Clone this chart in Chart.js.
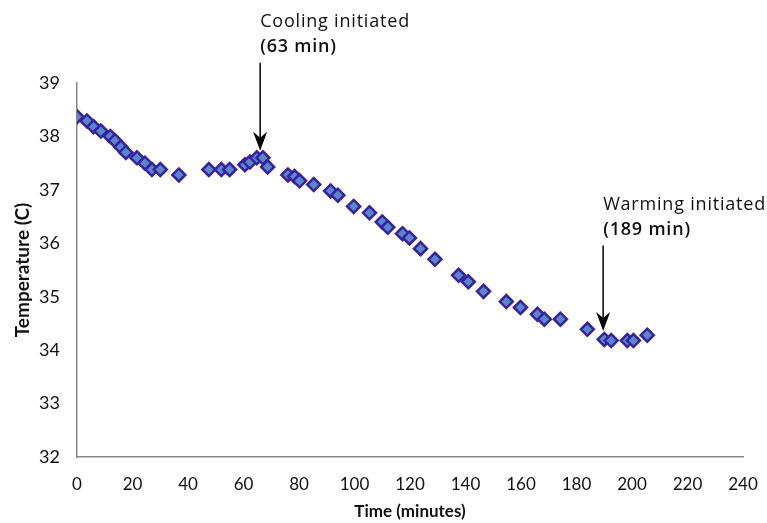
<!DOCTYPE html>
<html>
<head>
<meta charset="utf-8">
<script src="https://cdn.jsdelivr.net/npm/chart.js@4"></script>
<style>
  html, body { margin: 0; padding: 0; background: #fff; }
  #wrap { width: 767px; height: 523px; }
</style>
</head>
<body>
<div id="wrap"><canvas id="c" width="767" height="523"></canvas></div>
<script>
// Time (minutes)
const timeMin = [0, 3.6, 6, 8.6, 12, 13.7, 15.8, 17.6, 21.6, 24.5, 27, 30, 36.7,
  47.5, 52, 55, 60.5, 62.3, 64.8, 67, 68.7, 76, 78.4, 80.2, 85.3, 91.4, 94,
  99.7, 105.4, 110, 112, 117.3, 119.8, 123.8, 129, 137.5, 141, 146.5, 154.7,
  159.8, 165.9, 168.4, 174.2, 183.9, 190, 192.5, 198.3, 200.5, 205.5];
// Temperature (C)
const tempC = [38.37, 38.29, 38.18, 38.1, 38.0, 37.92, 37.8, 37.7, 37.6, 37.5, 37.38, 37.38, 37.28,
  37.38, 37.38, 37.38, 37.47, 37.52, 37.6, 37.6, 37.43, 37.28, 37.25, 37.17, 37.1, 36.98, 36.9,
  36.69, 36.57, 36.4, 36.3, 36.18, 36.1, 35.9, 35.7, 35.4, 35.28, 35.1, 34.91,
  34.8, 34.67, 34.58, 34.58, 34.39, 34.2, 34.18, 34.18, 34.18, 34.28];
const xTicks = [0, 20, 40, 60, 80, 100, 120, 140, 160, 180, 200, 220, 240];
const yTicks = [32, 33, 34, 35, 36, 37, 38, 39];
// Annotations: arrow x (minutes), arrow start / tip (deg C)
const noteLines1 = ['Cooling initiated', '(63 min)'];
const noteLines2 = ['Warming initiated', '(189 min)'];
const noteX = [66, 189.6];
const noteFrom = [39.38, 35.96];
const noteTo = [37.73, 34.36];

const points = timeMin.map((t, i) => ({ x: t, y: tempC[i] }));

const arrowPlugin = {
  id: 'arrows',
  afterDatasetsDraw(chart) {
    const { ctx, scales: { x, y } } = chart;
    const notes = [noteLines1, noteLines2];
    ctx.save();
    notes.forEach((lines, i) => {
      const px = x.getPixelForValue(noteX[i]);
      const y0 = y.getPixelForValue(noteFrom[i]);
      const y1 = y.getPixelForValue(noteTo[i]);
      ctx.strokeStyle = '#000';
      ctx.lineWidth = 1.5;
      ctx.beginPath();
      ctx.moveTo(px, y0);
      ctx.lineTo(px, y1 - 12);
      ctx.stroke();
      ctx.fillStyle = '#000';
      ctx.beginPath();
      ctx.moveTo(px, y1);
      ctx.lineTo(px - 7, y1 - 19);
      ctx.lineTo(px, y1 - 13);
      ctx.lineTo(px + 7, y1 - 19);
      ctx.closePath();
      ctx.fill();
      ctx.textAlign = 'left';
      ctx.textBaseline = 'middle';
      ctx.fillStyle = '#111';
      try { ctx.letterSpacing = '0.8px'; } catch (e) {}
      ctx.font = '18px "Open Sans", sans-serif';
      ctx.fillText(lines[0], px, y0 - 41);
      ctx.font = '600 18px "Open Sans", sans-serif';
      ctx.fillText(lines[1], px, y0 - 16);
      try { ctx.letterSpacing = '0px'; } catch (e) {}
    });
    ctx.restore();
  }
};

new Chart(document.getElementById('c'), {
  type: 'scatter',
  data: {
    datasets: [{
      data: points,
      pointStyle: 'rectRot',
      pointRadius: 6.5,
      pointHoverRadius: 6.5,
      pointBackgroundColor: '#558ac4',
      pointBorderColor: '#3a1fa6',
      pointBorderWidth: 2.5,
      showLine: false
    }]
  },
  options: {
    responsive: false,
    animation: false,
    events: [],
    layout: { padding: { top: 83, right: 24, left: 0, bottom: 0 } },
    plugins: { legend: { display: false }, tooltip: { enabled: false } },
    scales: {
      x: {
        type: 'linear',
        min: 0, max: 240,
        afterBuildTicks: (s) => { s.ticks = xTicks.map(v => ({ value: v })); },
        afterFit: (s) => { s.height = 523 - 457; s.paddingRight = 0; s.paddingLeft = 0; },
        grid: { display: false, drawTicks: false },
        border: { display: true, color: '#888', width: 1.5 },
        ticks: { color: '#111', padding: 17, maxRotation: 0, autoSkip: false,
          font: { family: 'Lato', size: 17 } },
        title: { display: true, text: 'Time (minutes)', color: '#111',
          font: { family: 'Lato', size: 17, weight: 'bold' }, padding: { bottom: 1, top: 0 } }
      },
      y: {
        type: 'linear',
        min: 32, max: 39,
        afterBuildTicks: (s) => { s.ticks = yTicks.map(v => ({ value: v })); },
        afterFit: (s) => { s.width = 77; },
        grid: { display: false, drawTicks: false },
        border: { display: true, color: '#888', width: 1.5 },
        ticks: { color: '#111', padding: 17, font: { family: 'Lato', size: 18 } },
        title: { display: true, text: 'Temperature (C)', color: '#111',
          font: { family: 'Lato', size: 19, weight: 'bold' }, padding: { top: 11, bottom: 0 } }
      }
    }
  },
  plugins: [arrowPlugin]
});
</script>
</body>
</html>
